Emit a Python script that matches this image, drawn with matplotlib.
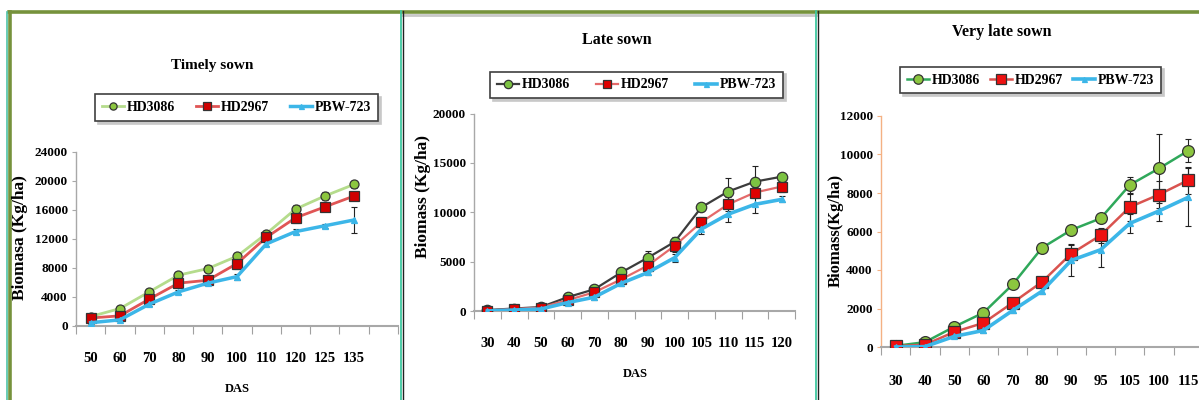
import matplotlib
matplotlib.use("Agg")
import matplotlib.pyplot as plt
from matplotlib.lines import Line2D
import numpy as np

plt.rcParams['font.family'] = ['Liberation Serif', 'DejaVu Serif']
plt.rcParams['font.weight'] = 'bold'

series_names = ["HD3086", "HD2967", "PBW-723"]

# ---------------- Panel 1: Timely sown ----------------
timely_das = ["50", "60", "70", "80", "90", "100", "110", "120", "125", "135"]
timely_hd3086 = [1300, 2400, 4700, 7000, 7900, 9600, 12700, 16100, 17900, 19500]
timely_hd2967 = [1100, 1400, 3700, 5900, 6300, 8600, 12200, 14900, 16400, 17900]
timely_pbw723 = [450, 850, 3000, 4700, 5900, 6800, 11300, 13000, 13800, 14600]
timely_err_hd3086 = [300, 300, 400, 400, 500, 500, 400, 500, 500, 500]
timely_err_hd2967 = [300, 300, 300, 500, 400, 700, 500, 700, 600, 500]
timely_err_pbw723 = [200, 200, 300, 300, 300, 400, 300, 400, 300, 1800]

# ---------------- Panel 2: Late sown ----------------
late_das = ["30", "40", "50", "60", "70", "80", "90", "100", "105", "110", "115", "120"]
late_hd3086 = [100, 250, 400, 1400, 2200, 3900, 5400, 7000, 10500, 12100, 13100, 13600]
late_hd2967 = [50, 200, 350, 1100, 1900, 3200, 4600, 6600, 9000, 10800, 12000, 12600]
late_pbw723 = [0, 100, 200, 850, 1400, 2800, 3900, 5400, 8300, 9800, 10800, 11300]
late_err_hd3086 = [200, 200, 200, 300, 300, 500, 700, 500, 400, 1400, 1600, 400]
late_err_hd2967 = [200, 200, 200, 200, 300, 400, 500, 600, 500, 700, 600, 500]
late_err_pbw723 = [100, 100, 100, 200, 300, 300, 300, 400, 500, 800, 900, 300]

# ---------------- Panel 3: Very late sown ----------------
vlate_das = ["30", "40", "50", "60", "70", "80", "90", "95", "105", "100", "115"]
vlate_hd3086 = [60, 250, 1050, 1780, 3250, 5150, 6080, 6680, 8420, 9280, 10200]
vlate_hd2967 = [40, 120, 780, 1250, 2300, 3380, 4850, 5800, 7270, 7920, 8670]
vlate_pbw723 = [0, 20, 550, 860, 1900, 2900, 4500, 5050, 6420, 7070, 7780]
vlate_err_hd3086 = [150, 150, 150, 150, 200, 150, 150, 200, 400, 1800, 600]
vlate_err_hd2967 = [150, 150, 150, 200, 200, 200, 500, 400, 700, 700, 700]
vlate_err_pbw723 = [100, 100, 100, 150, 150, 150, 800, 900, 500, 500, 1500]

W, H = 1199, 400
fig = plt.figure(figsize=(W / 100, H / 100), dpi=100)


def rect(x0, x1, ytop, ybot):
    return [x0 / W, 1 - ybot / H, (x1 - x0) / W, (ybot - ytop) / H]


def fx(x):
    return x / W


def fy(y):
    return 1 - y / H


def make_panel(pos, cats, nslots, vals, errs, styles, ylim, yticks, ylabel,
               ylabel_x, ylabel_y, ylabel_size, title, title_xy, title_size,
               legbox, das_xy, yspine_color, xpad):
    ax = fig.add_axes(pos)
    x = np.arange(len(cats))
    handles = []
    for name, v, e, st in zip(series_names, vals, errs, styles):
        ax.errorbar(x, v, yerr=e, fmt='none', ecolor='#222222', elinewidth=0.8,
                    capsize=2, capthick=0.8, zorder=2)
        ln, = ax.plot(x, v, color=st['lc'], lw=st['lw'], marker=st['m'],
                      ms=st['ms'], mfc=st['mfc'], mec=st['mec'], mew=0.9,
                      zorder=3, label=name)
        handles.append(ln)
    ax.set_xlim(-0.5, nslots - 0.5)
    ax.set_ylim(*ylim)
    ax.set_xticks(x)
    ax.set_xticklabels(cats, fontsize=10.5, fontweight='bold')
    ax.set_xticks(np.arange(nslots + 1) - 0.5, minor=True)
    ax.tick_params(axis='x', which='major', length=0, pad=xpad)
    ax.tick_params(axis='x', which='minor', length=6, color='#a0a0a0', width=0.8)
    ax.set_yticks(yticks)
    ax.set_yticklabels([str(t) for t in yticks], fontsize=9.5, fontweight='bold')
    ax.tick_params(axis='y', length=3, color=yspine_color, width=0.8, pad=3)
    for s in ['top', 'right']:
        ax.spines[s].set_visible(False)
    ax.spines['left'].set_color(yspine_color)
    ax.spines['left'].set_linewidth(1.0)
    ax.spines['bottom'].set_color('#a8a8a8')
    ax.spines['bottom'].set_linewidth(1.5)
    ax.patch.set_alpha(0)
    fig.text(fx(ylabel_x), fy(ylabel_y), ylabel, rotation=90, ha='center',
             va='center', fontsize=ylabel_size, fontweight='bold')
    fig.text(fx(title_xy[0]), fy(title_xy[1]), title, ha='center', va='center',
             fontsize=title_size, fontweight='bold')
    if das_xy is not None:
        fig.text(fx(das_xy[0]), fy(das_xy[1]), "DAS", ha='center', va='center',
                 fontsize=9, fontweight='bold')
    x0, x1, yt, yb = legbox
    leg = fig.legend(handles=handles, loc='center', ncol=3, mode='expand',
                     bbox_to_anchor=(fx(x0), fy(yb), (x1 - x0) / W, (yb - yt) / H),
                     bbox_transform=fig.transFigure, frameon=True, fancybox=False,
                     edgecolor='#404040', handlelength=1.6,
                     handletextpad=0.2, borderpad=0.5, columnspacing=1.0,
                     prop={'weight': 'bold', 'size': 10},
                     shadow={'color': '#c8c8c8', 'alpha': 1.0})
    leg.get_frame().set_linewidth(1.2)
    for h in leg.legend_handles:
        h.set_markersize(h.get_markersize() * 0.8)
    return ax


green_m = '#8cc63f'
red_m = '#d00000'
blue_l = '#3cb6e8'

# Panel 1
make_panel(rect(76, 398, 151.7, 326), timely_das, 11,
           [timely_hd3086, timely_hd2967, timely_pbw723],
           [timely_err_hd3086, timely_err_hd2967, timely_err_pbw723],
           [dict(lc='#b5dc8c', lw=2.0, m='o', ms=6.5, mfc=green_m, mec='#333333'),
            dict(lc='#e05555', lw=2.0, m='s', ms=6.5, mfc=red_m, mec='#333333'),
            dict(lc=blue_l, lw=2.5, m='^', ms=4.5, mfc=blue_l, mec=blue_l)],
           (0, 24000), list(range(0, 24001, 4000)), "Biomasa (Kg/ha)",
           20, 238, 12.5, "Timely sown", (212, 65), 11,
           (88, 385, 90, 125), (237, 389), '#a8a8a8', 19)

# Panel 2
make_panel(rect(474, 795, 113.5, 311), late_das, 12,
           [late_hd3086, late_hd2967, late_pbw723],
           [late_err_hd3086, late_err_hd2967, late_err_pbw723],
           [dict(lc='#3c3c3c', lw=1.6, m='o', ms=7.5, mfc='#7cc242', mec='#333333'),
            dict(lc='#e46a6a', lw=1.6, m='s', ms=7, mfc='#e00000', mec='#333333'),
            dict(lc=blue_l, lw=2.6, m='^', ms=4.5, mfc=blue_l, mec=blue_l)],
           (0, 20000), list(range(0, 20001, 5000)), "Biomass (Kg/ha)",
           423, 197, 12.5, "Late sown", (617, 40), 11.5,
           (483, 790, 68, 102), (635, 374), '#a8a8a8', 19)

# Panel 3
make_panel(rect(881, 1203, 116, 347), vlate_das, 11,
           [vlate_hd3086, vlate_hd2967, vlate_pbw723],
           [vlate_err_hd3086, vlate_err_hd2967, vlate_err_pbw723],
           [dict(lc='#2fa85a', lw=1.8, m='o', ms=8.5, mfc=green_m, mec='#333333'),
            dict(lc='#d9534f', lw=1.8, m='s', ms=8.5, mfc='#ee1111', mec='#333333'),
            dict(lc=blue_l, lw=2.6, m='^', ms=4.5, mfc=blue_l, mec=blue_l)],
           (0, 12000), list(range(0, 12001, 2000)), "Biomass(Kg/ha)",
           836, 230, 12, "Very late sown", (1002, 32), 11.5,
           (893, 1168, 60, 100), None, '#f4b183', 20)

# Frame lines of the composite figure
frame = [
    ((9, W), (12, 12), '#76923c', 2.6),
    ((7, 7), (12, H), '#4fc3a8', 1.2),
    ((10, 10), (12, H), '#76923c', 2.6),
    ((403, 816), (15, 15), '#c8c8c8', 2.0),
    ((401, 401), (11, H), '#40c8a0', 1.3),
    ((403, 403), (11, H), '#222222', 1.0),
    ((816, 816), (11, H), '#40c8a0', 1.3),
    ((818, 818), (11, H), '#222222', 1.0),
]
for xs, ys, c, lw in frame:
    fig.add_artist(Line2D([fx(v) for v in xs], [fy(v) for v in ys],
                          color=c, lw=lw, transform=fig.transFigure))

fig.savefig("out.png", dpi=100)
